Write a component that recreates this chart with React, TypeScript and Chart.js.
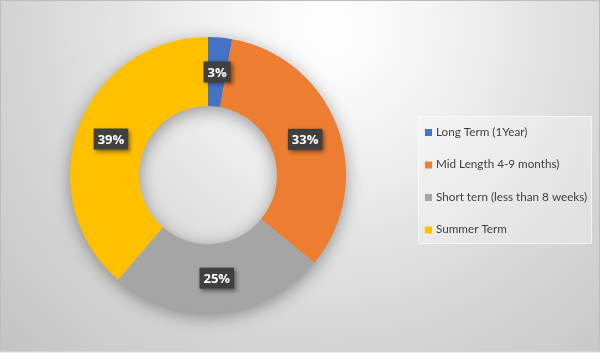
import React, { useEffect, useRef } from "react";
import { Chart, registerables } from "chart.js";

Chart.register(...registerables);

const categories = [
  "Long Term (1Year)",
  "Mid Length 4-9 months)",
  "Short tern (less than 8 weeks)",
  "Summer Term",
];
const shares = [2.8, 33.2, 25.3, 38.7];
const colors = ["#4472C4", "#ED7D31", "#A5A5A5", "#FFC000"];

const bgPlugin = {
  id: "bg",
  beforeDraw(chart: any) {
    const { ctx, width, height } = chart;
    ctx.save();
    const g = ctx.createRadialGradient(330, 30, 0, 330, 30, 470);
    g.addColorStop(0, "#ffffff");
    g.addColorStop(0.22, "#f4f4f4");
    g.addColorStop(0.6, "#d9d9d9");
    g.addColorStop(1, "#c2c2c2");
    ctx.fillStyle = g;
    ctx.fillRect(0, 0, width, height);
    ctx.strokeStyle = "#bdbdbd";
    ctx.lineWidth = 1;
    ctx.strokeRect(0.5, 0.5, width - 1, height - 2);
    ctx.fillStyle = "#ececec";
    ctx.fillRect(0, height - 1.5, width, 1.5);
    ctx.restore();
  },
};

const ringShadowPlugin = {
  id: "ringShadow",
  beforeDatasetsDraw(chart: any) {
    const meta = chart.getDatasetMeta(0);
    const a = meta.data[0];
    if (!a) return;
    const { x, y, outerRadius, innerRadius } = a.getProps(["x", "y", "outerRadius", "innerRadius"], true);
    const ctx = chart.ctx;
    ctx.save();
    ctx.shadowColor = "rgba(0,0,0,0.4)";
    ctx.shadowBlur = 18;
    ctx.shadowOffsetY = 4;
    ctx.beginPath();
    ctx.arc(x, y, outerRadius - 1, 0, Math.PI * 2);
    ctx.arc(x, y, innerRadius + 1, 0, Math.PI * 2, true);
    ctx.fillStyle = "#b0b0b0";
    ctx.fill();
    ctx.restore();
  },
};

const labelPlugin = {
  id: "sliceLabels",
  afterDatasetsDraw(chart: any) {
    const ctx = chart.ctx;
    const meta = chart.getDatasetMeta(0);
    const data = chart.data.datasets[0].data as number[];
    const total = data.reduce((s, v) => s + v, 0);
    ctx.save();
    ctx.font = "bold 13px 'Open Sans', 'DejaVu Sans', sans-serif";
    ctx.textAlign = "center";
    ctx.textBaseline = "middle";
    meta.data.forEach((arc: any, i: number) => {
      const p = arc.tooltipPosition();
      const txt = Math.round((data[i] / total) * 100) + "%";
      const w = ctx.measureText(txt).width + 8;
      const h = 21;
      ctx.save();
      ctx.shadowColor = "rgba(0,0,0,0.45)";
      ctx.shadowBlur = 4;
      ctx.shadowOffsetX = 2;
      ctx.shadowOffsetY = 2;
      ctx.fillStyle = "#404040";
      ctx.fillRect(p.x - w / 2, p.y - h / 2, w, h);
      ctx.restore();
      ctx.fillStyle = "#ffffff";
      ctx.fillText(txt, p.x, p.y + 1);
    });
    ctx.restore();
  },
};

const legendPlugin = {
  id: "customLegend",
  afterDraw(chart: any) {
    const ctx = chart.ctx;
    const labels = chart.data.labels as string[];
    const bg = chart.data.datasets[0].backgroundColor as string[];
    const bx = 418, by = 116, bw = 174, bh = 128;
    ctx.save();
    ctx.fillStyle = "rgba(255,255,255,0.3)";
    ctx.fillRect(bx, by, bw, bh);
    ctx.strokeStyle = "rgba(255,255,255,0.6)";
    ctx.lineWidth = 1;
    ctx.strokeRect(bx + 0.5, by + 0.5, bw - 1, bh - 1);
    ctx.font = "11.7px Lato, 'Open Sans', sans-serif";
    ctx.textBaseline = "middle";
    ctx.textAlign = "left";
    labels.forEach((l, i) => {
      const cy = 132 + i * 32.5;
      ctx.fillStyle = bg[i];
      ctx.fillRect(425, cy - 3, 7, 7);
      ctx.fillStyle = "#404040";
      ctx.fillText(l, 436, cy);
    });
    ctx.restore();
  },
};

export default function App() {
  const ref = useRef<HTMLCanvasElement>(null);
  useEffect(() => {
    document.body.style.margin = "0";
    const chart = new Chart(ref.current!, {
      type: "doughnut",
      data: {
        labels: categories,
        datasets: [
          {
            data: shares,
            backgroundColor: colors,
            borderWidth: 0,
          },
        ],
      },
      options: {
        animation: false,
        responsive: false,
        cutout: "50%",
        layout: { padding: { top: 37, bottom: 40, left: 70, right: 254 } },
        plugins: {
          legend: { display: false },
          tooltip: { enabled: false },
        },
      },
      plugins: [bgPlugin, ringShadowPlugin, labelPlugin, legendPlugin],
    });
    return () => chart.destroy();
  }, []);
  return <canvas ref={ref} width={600} height={353} style={{ display: "block" }} />;
}
